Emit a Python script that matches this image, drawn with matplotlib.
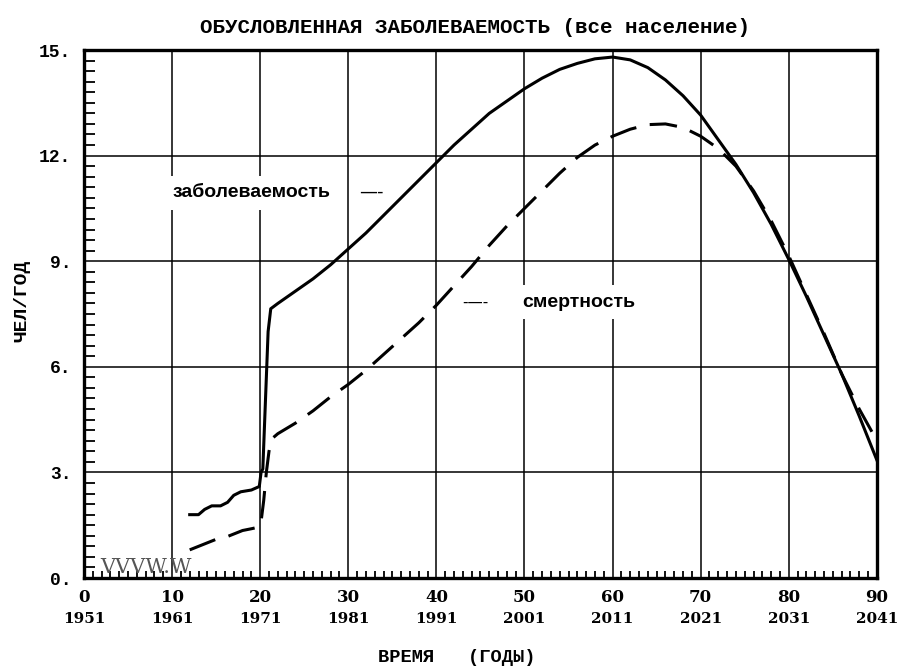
import numpy as np
import matplotlib
matplotlib.use('Agg')
import matplotlib.pyplot as plt
from matplotlib.ticker import MultipleLocator
from matplotlib.transforms import blended_transform_factory

plt.rcParams['axes.unicode_minus'] = False

# ---- data ------------------------------------------------------------------
# заболеваемость (solid)
inc_x = [12, 13, 13.7, 14.5, 15.5, 16.3, 17, 17.8, 19, 19.9, 20.1, 20.3, 20.9, 21.2,
         22, 24, 26, 28, 30, 32, 34, 36, 38, 40, 42, 44, 46, 48, 50, 52, 54, 56, 58,
         60, 62, 64, 66, 68, 70, 72, 74, 76, 78, 80, 82, 84, 86, 88, 90]
inc_y = [1.8, 1.8, 1.95, 2.05, 2.05, 2.15, 2.35, 2.45, 2.5, 2.6, 3.0, 3.1, 7.0, 7.65,
         7.8, 8.15, 8.5, 8.9, 9.35, 9.8, 10.3, 10.8, 11.3, 11.8, 12.3, 12.75, 13.2,
         13.55, 13.9, 14.2, 14.45, 14.62, 14.75, 14.8, 14.72, 14.5, 14.15, 13.7,
         13.15, 12.45, 11.75, 10.95, 10.05, 9.05, 8.0, 6.9, 5.8, 4.6, 3.35]

# смертность (dashed)
mort_x = [12, 13, 14, 15, 16, 17, 18, 19, 19.9, 20.1, 20.4, 20.7, 21.0, 21.3,
          22, 24, 26, 28, 30, 32, 34, 36, 38, 40, 42, 44, 46, 48, 50, 52, 54, 56, 58,
          60, 62, 64, 66, 68, 70, 72, 74, 76, 78, 80, 82, 84, 86, 88, 90]
mort_y = [0.8, 0.9, 1.0, 1.1, 1.15, 1.25, 1.35, 1.4, 1.45, 1.6, 2.2, 3.0, 3.6, 3.95,
          4.1, 4.4, 4.75, 5.15, 5.5, 5.9, 6.35, 6.8, 7.25, 7.75, 8.3, 8.85, 9.45, 10.0,
          10.5, 11.0, 11.5, 11.95, 12.3, 12.55, 12.75, 12.88, 12.9, 12.8, 12.55, 12.2,
          11.7, 11.0, 10.15, 9.15, 8.05, 6.95, 5.8, 4.8, 3.9]

x_ticks = [0, 10, 20, 30, 40, 50, 60, 70, 80, 90]
x_years = ['1951', '1961', '1971', '1981', '1991', '2001', '2011', '2021', '2031', '2041']
y_ticks = [0, 3, 6, 9, 12, 15]

MONO = 'Liberation Mono'
SERIF = 'DejaVu Serif'

fig = plt.figure(figsize=(9.04, 6.66), dpi=100)
ax = fig.add_axes([0.0929, 0.1321, 0.8771, 0.7928])

ax.plot(inc_x, inc_y, color='black', lw=2.2, zorder=3)
ax.plot(mort_x, mort_y, color='black', lw=2.2, linestyle=(0, (9, 4.5)), zorder=3)

ax.set_xlim(0, 90)
ax.set_ylim(0, 15)
ax.set_xticks(x_ticks)
ax.set_xticklabels([str(t) for t in x_ticks], fontfamily=SERIF, fontweight='bold', fontsize=12)
ax.set_yticks(y_ticks)
ax.set_yticklabels([f'{t}.' for t in y_ticks], fontfamily=MONO, fontweight='bold', fontsize=13)
ax.xaxis.set_minor_locator(MultipleLocator(1))
ax.yaxis.set_minor_locator(MultipleLocator(0.3))
ax.tick_params(which='major', direction='in', length=0)
ax.tick_params(axis='x', which='minor', direction='in', length=5, width=1.3)
ax.tick_params(axis='y', which='minor', direction='in', length=8, width=1.3)
ax.tick_params(axis='x', which='major', pad=8)
ax.tick_params(axis='y', which='major', pad=9)

ax.grid(True, which='major', color='black', lw=1.1)
ax.set_axisbelow(True)
for s in ax.spines.values():
    s.set_linewidth(2.4)

# year row under the tick numbers
trans = blended_transform_factory(ax.transData, ax.transAxes)
for t, yr in zip(x_ticks, x_years):
    ax.text(t, -0.078, yr, transform=trans, ha='center', va='center',
            fontfamily=SERIF, fontweight='bold', fontsize=11, clip_on=False)

# curve labels with short line samples
box = dict(facecolor='white', edgecolor='none', boxstyle='square,pad=0.45')
ax.text(10.1, 10.94, 'заболеваемость', ha='left', va='center', fontfamily='Liberation Sans',
        fontweight='bold', fontsize=14, bbox=box, zorder=2)
ax.text(32.6, 10.97, '—-', ha='center', va='center', fontsize=13, bbox=box, zorder=2)
ax.text(49.8, 7.84, 'смертность', ha='left', va='center', fontfamily='Liberation Sans',
        fontweight='bold', fontsize=14, bbox=box, zorder=2)
ax.text(44.4, 7.84, '-—-', ha='center', va='center', fontsize=11, bbox=box, zorder=2)

ax.text(0.02, 0.002, 'VVVW.W', transform=ax.transAxes, ha='left', va='bottom',
        fontfamily=SERIF, fontsize=15, color='#555555', zorder=4)

fig.text(0.525, 0.959, 'ОБУСЛОВЛЕННАЯ ЗАБОЛЕВАЕМОСТЬ (все население)', ha='center', va='center',
         fontfamily=MONO, fontweight='bold', fontsize=15)
fig.text(0.024, 0.548, 'ЧЕЛ/ГОД', rotation=90, ha='center', va='center',
         fontfamily=MONO, fontweight='bold', fontsize=14)
fig.text(0.505, 0.0135, 'ВРЕМЯ   (ГОДЫ)', ha='center', va='center',
         fontfamily=MONO, fontweight='bold', fontsize=13.5)

fig.savefig('out.png', dpi=100)
